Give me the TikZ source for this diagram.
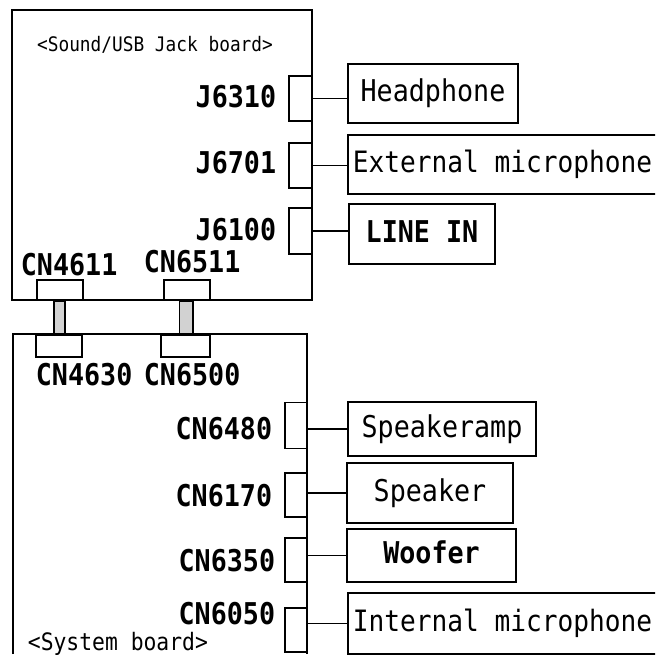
\documentclass[tikz,border=0pt]{standalone}
\usepackage{fontspec}
\newfontfamily\gothic[FakeStretch=0.89]{DejaVu Sans Mono}

\begin{document}
\begin{tikzpicture}[x=1pt, y=-1pt, line width=1.8pt,
  tab/.style={draw, rectangle, minimum width=23pt, minimum height=45pt, inner sep=0pt},
  part/.style={draw, rectangle, minimum height=59pt, inner sep=0pt, text height=22pt, text depth=6pt,
    font=\gothic\fontsize{30}{32}\selectfont},
  longpart/.style={part, anchor=west, inner xsep=5pt, font=\gothic\fontsize{29.4}{32}\selectfont},
  pin/.style={inner sep=0pt, font=\gothic\bfseries\fontsize{30}{32}\selectfont},
  cable/.style={draw, fill=gray!35}]
  \useasboundingbox (0,0) rectangle (655,663);
  \clip (0,0) rectangle (655,663);
  % Sound/USB jack board
  \draw (12,10) rectangle (312,300);
  \node[inner sep=0pt, anchor=base, font=\gothic\fontsize{20}{22}\selectfont] (jacktitle) at (155,51.5) {<Sound/USB Jack board>};
  \node[tab] (j6310) at (300.5,98.5) {};
  \node[tab] (j6701) at (300.5,165.5) {};
  \node[tab, minimum height=46pt] (j6100) at (300.5,231) {};
  \node[pin, anchor=base east] (lj6310) at (277,108) {J6310};
  \node[pin, anchor=base east] (lj6701) at (277,174) {J6701};
  \node[pin, anchor=base east] (lj6100) at (277,240) {J6100};
  \node[tab, minimum width=46pt, minimum height=20pt] (cn4611) at (60,290) {};
  \node[tab, minimum width=46pt, minimum height=20pt] (cn6511) at (187,290) {};
  \node[pin, anchor=base west] (lcn4611) at (20,275) {CN4611};
  \node[pin, anchor=base west] (lcn6511) at (143,272) {CN6511};
  % parts on the jack board
  \node[part, minimum width=170pt] (phone) at (433,93.5) {Headphone};
  \node[longpart] (extmic) at (347,164.5) {External microphone};
  \node[part, minimum width=146pt, minimum height=60pt, font=\gothic\bfseries\fontsize{30}{32}\selectfont] (linein) at (422,234) {LINE IN};
  \draw (j6310.east) -- (j6310.east -| phone.west);
  \draw (j6701.east) -- (j6701.east -| extmic.west);
  \draw (j6100.east) -- (j6100.east -| linein.west);
  % system board
  \draw (13,654) -- (13,334) -- (307,334) -- (307,654);
  \node[inner sep=0pt, anchor=base west, font=\gothic\fontsize{24}{26}\selectfont] (systitle) at (27,650) {<System board>};
  \node[tab, minimum width=46pt, minimum height=22pt] (cn4630) at (59,346) {};
  \node[tab, minimum width=49pt, minimum height=22pt] (cn6500) at (185.5,346) {};
  \node[pin, anchor=base west] (lcn4630) at (35,385) {CN4630};
  \node[pin, anchor=base west] (lcn6500) at (143,385) {CN6500};
  \draw[cable] ([xshift=-6pt]cn4611.south) rectangle ([xshift=6pt]cn4630.north);
  \draw[cable] ([xshift=-7.5pt]cn6511.south) rectangle ([xshift=7.5pt]cn6500.north);
  \node[tab, minimum width=22pt, minimum height=46pt] (cn6480) at (296,425.5) {};
  \node[tab, minimum width=22pt, minimum height=44pt] (cn6170) at (296,495) {};
  \node[tab, minimum width=22pt, minimum height=44pt] (cn6350) at (296,560) {};
  \node[tab, minimum width=22pt, minimum height=44pt] (cn6050) at (296,630) {};
  \node[pin, anchor=base east] (lcn6480) at (273,439) {CN6480};
  \node[pin, anchor=base east] (lcn6170) at (273,506) {CN6170};
  \node[pin, anchor=base east] (lcn6350) at (276,571) {CN6350};
  \node[pin, anchor=base east] (lcn6050) at (276,624) {CN6050};
  % parts on the system board
  \node[part, minimum width=188pt, minimum height=54pt] (spamp) at (442,429) {Speakeramp};
  \node[part, minimum width=166pt, minimum height=60pt] (speaker) at (430,493) {Speaker};
  \node[part, minimum width=169pt, minimum height=53pt, font=\gothic\bfseries\fontsize{30}{32}\selectfont] (woofer) at (431.5,555.5) {Woofer};
  \node[longpart, minimum height=61pt] (intmic) at (347,623.5) {Internal microphone};
  \draw (spamp.west -| cn6480.east) -- (spamp.west);
  \draw (speaker.west -| cn6170.east) -- (speaker.west);
  \draw (woofer.west -| cn6350.east) -- (woofer.west);
  \draw (intmic.west -| cn6050.east) -- (intmic.west);
\end{tikzpicture}
\end{document}
